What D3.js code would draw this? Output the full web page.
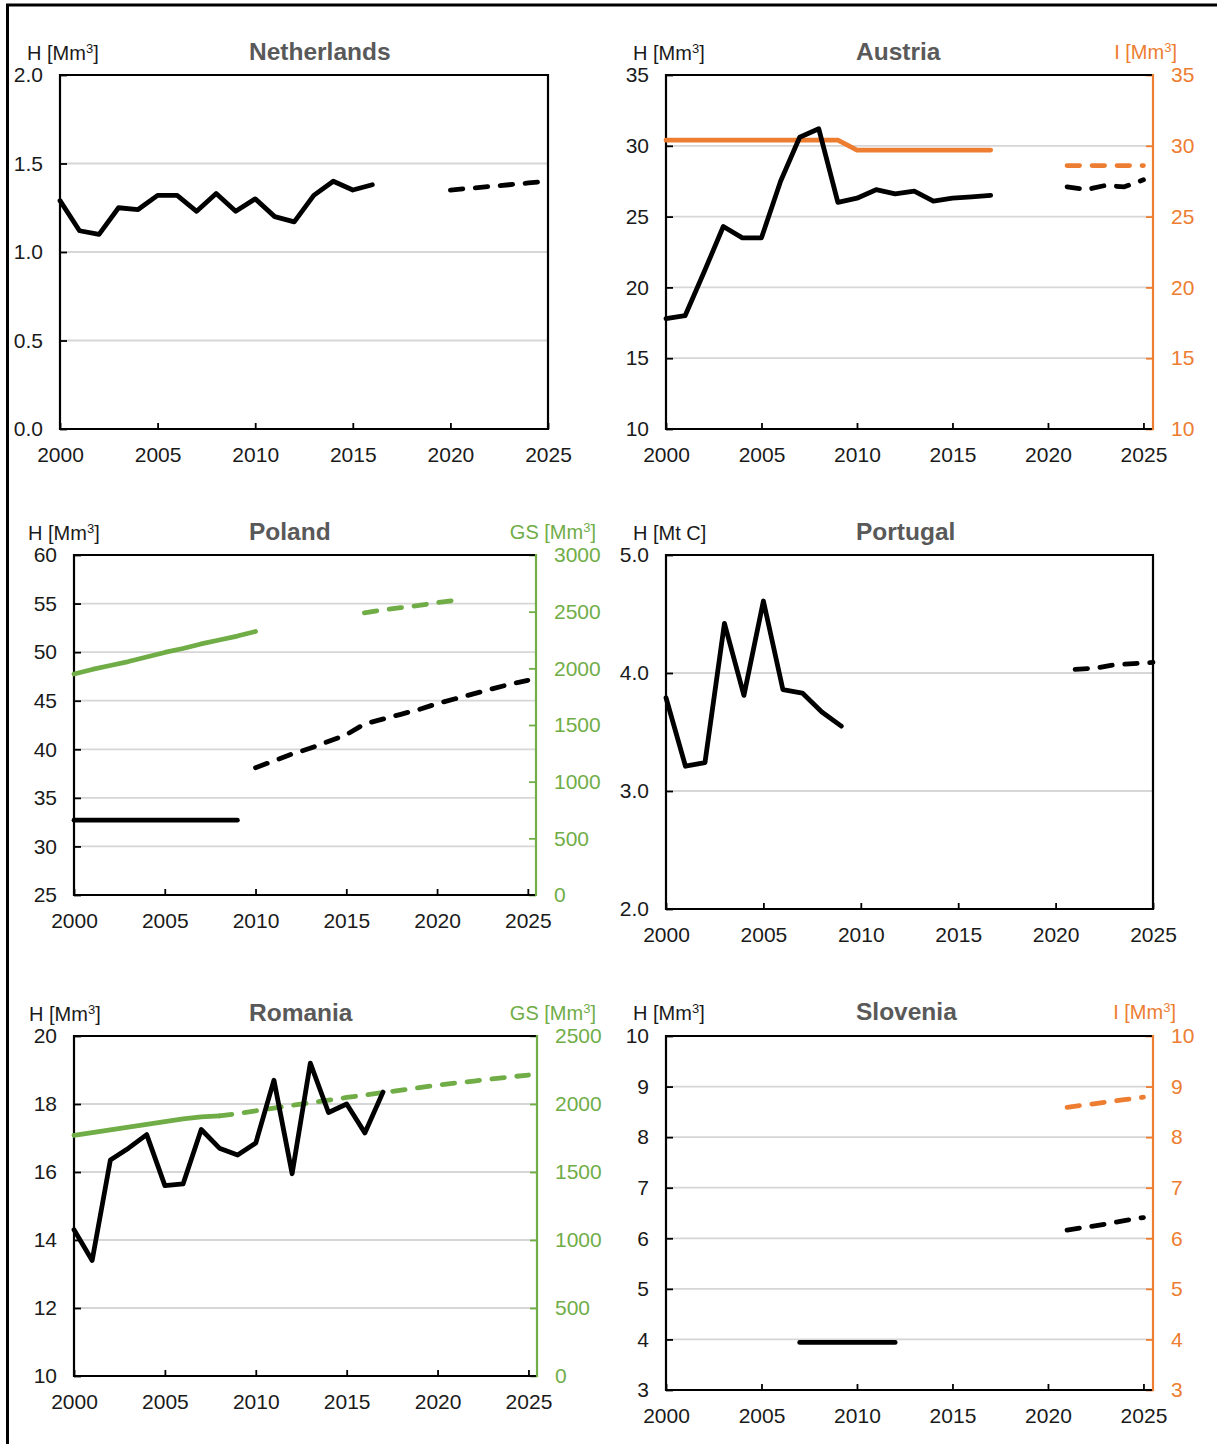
<!DOCTYPE html>
<html><head><meta charset="utf-8">
<script src="https://cdn.jsdelivr.net/npm/d3@7"></script>
<style>
body{margin:0;background:#fff}
svg{display:block}
text{font-family:"Liberation Sans",Arial,sans-serif}
</style>
</head><body>
<svg id="c" width="1217" height="1444"></svg>
<script>
// ---------------- DATA ----------------
const xTickYears = [2000, 2005, 2010, 2015, 2020, 2025];

// Netherlands
const nlYears = [2000,2001,2002,2003,2004,2005,2006,2007,2008,2009,2010,2011,2012,2013,2014,2015,2016];
const nlH = [1.29,1.12,1.10,1.25,1.24,1.32,1.32,1.23,1.33,1.23,1.30,1.20,1.17,1.32,1.40,1.35,1.38];
const nlProjYears = [2020,2021,2022,2023,2024,2025];
const nlHProj = [1.35,1.36,1.37,1.38,1.39,1.40];
const nlYTicks = [0,0.5,1.0,1.5,2.0];

// Austria
const atYears = [2000,2001,2002,2003,2004,2005,2006,2007,2008,2009,2010,2011,2012,2013,2014,2015,2016,2017];
const atH = [17.8,18.0,21.1,24.3,23.5,23.5,27.5,30.6,31.2,26.0,26.3,26.9,26.6,26.8,26.1,26.3,26.4,26.5];
const atI = [30.4,30.4,30.4,30.4,30.4,30.4,30.4,30.4,30.4,30.4,29.7,29.7,29.7,29.7,29.7,29.7,29.7,29.7];
const atProjYears = [2021,2022,2023,2024,2025];
const atHProj = [27.1,26.9,27.2,27.1,27.6];
const atIProj = [28.6,28.6,28.6,28.6,28.6];
const atYTicks = [10,15,20,25,30,35];

// Poland
const plHYears = [2000,2001,2002,2003,2004,2005,2006,2007,2008,2009];
const plH = [32.7,32.7,32.7,32.7,32.7,32.7,32.7,32.7,32.7,32.7];
const plHProjYears = [2010,2011,2012,2013,2014,2015,2016,2017,2018,2019,2020,2021,2022,2023,2024,2025];
const plHProj = [38.1,38.8,39.5,40.1,40.8,41.5,42.6,43.1,43.6,44.1,44.7,45.2,45.7,46.2,46.7,47.1];
const plGSYears = [2000,2001,2002,2003,2004,2005,2006,2007,2008,2009,2010];
const plGS = [1950,1990,2025,2060,2100,2140,2175,2215,2250,2285,2325];
const plGSProjYears = [2016,2017,2018,2019,2020,2021];
const plGSProj = [2490,2515,2535,2555,2580,2600];
const plYTicks = [25,30,35,40,45,50,55,60];
const plGSTicks = [0,500,1000,1500,2000,2500,3000];

// Portugal
const ptYears = [2000,2001,2002,2003,2004,2005,2006,2007,2008,2009];
const ptH = [3.79,3.21,3.24,4.42,3.81,4.61,3.86,3.83,3.67,3.55];
const ptProjYears = [2021,2022,2023,2024,2025];
const ptHProj = [4.03,4.04,4.07,4.08,4.09];
const ptYTicks = [2.0,3.0,4.0,5.0];

// Romania
const roYears = [2000,2001,2002,2003,2004,2005,2006,2007,2008,2009,2010,2011,2012,2013,2014,2015,2016,2017];
const roH = [14.3,13.4,16.35,16.7,17.1,15.6,15.65,17.25,16.7,16.5,16.85,18.7,15.95,19.2,17.75,18.0,17.15,18.35];
const roGSYears = [2000,2001,2002,2003,2004,2005,2006,2007,2008];
const roGS = [1770,1790,1810,1830,1850,1870,1890,1905,1912];
const roGSProjYears = [2008,2009,2010,2011,2012,2013,2014,2015,2016,2017,2018,2019,2020,2021,2022,2023,2024,2025];
const roGSProj = [1912,1930,1950,1970,1990,2008,2028,2048,2066,2084,2102,2120,2139,2154,2169,2184,2199,2213];
const roYTicks = [10,12,14,16,18,20];
const roGSTicks = [0,500,1000,1500,2000,2500];

// Slovenia
const siYears = [2007,2008,2009,2010,2011,2012];
const siH = [3.94,3.94,3.94,3.94,3.94,3.94];
const siProjYears = [2021,2022,2023,2024,2025];
const siHProj = [6.16,6.22,6.28,6.35,6.41];
const siIProj = [8.59,8.64,8.69,8.74,8.79];
const siYTicks = [3,4,5,6,7,8,9,10];

// ---------------- STYLE ----------------
const ORANGE = "#ED7D31", GREEN = "#70AD47", BLACK = "#000";
const TXT = "#1a1a1a";
const TICKFS = 21;

const svg = d3.select("#c");

// outer frame
svg.append("line").attr("x1",6).attr("x2",1217).attr("y1",5).attr("y2",5).attr("stroke","#000").attr("stroke-width",3);
svg.append("line").attr("x1",7.5).attr("x2",7.5).attr("y1",4).attr("y2",1444).attr("stroke","#000").attr("stroke-width",3);

function pairs(xs, ys){ return d3.zip(xs, ys); }

function unitLabel(g, x, y, prefix, suffix, color, anchor){
  const t = g.append("text").attr("x",x).attr("y",y).attr("fill",color)
    .attr("font-size",20).attr("text-anchor",anchor||"start");
  t.append("tspan").text(prefix);
  if (suffix !== null){
    t.append("tspan").attr("font-size",13).attr("dy",-7).text("3");
    t.append("tspan").attr("dy",7).text(suffix);
  }
}

function drawPanel(p){
  const g = svg.append("g");
  const x = d3.scaleLinear().domain([2000, p.xMax]).range([p.left, p.right]);
  const y = d3.scaleLinear().domain([p.yTicks[0], p.yTicks[p.yTicks.length-1]]).range([p.bottom, p.top]);
  let yr = null;
  if (p.rAxis){
    yr = d3.scaleLinear().domain([p.rAxis.ticks[0], p.rAxis.ticks[p.rAxis.ticks.length-1]]).range([p.bottom, p.top]);
  }

  // gridlines
  g.append("g").selectAll("line")
    .data(p.yTicks.slice(1, -1)).join("line")
    .attr("x1", p.left).attr("x2", p.right)
    .attr("y1", d => y(d)).attr("y2", d => y(d))
    .attr("stroke", "#d6d6d6").attr("stroke-width", 1.8);

  // left axis
  const la = g.append("g").attr("transform", `translate(${p.left},0)`)
    .call(d3.axisLeft(y).tickValues(p.yTicks).tickFormat(p.yFmt).tickSizeInner(-7).tickSizeOuter(0).tickPadding(17));
  la.select(".domain").remove();
  la.selectAll("line").attr("stroke", BLACK).attr("stroke-width", 1.8);
  la.selectAll("text").attr("font-size", TICKFS).attr("fill", TXT).attr("font-family", null);

  // bottom axis
  const ba = g.append("g").attr("transform", `translate(0,${p.bottom})`)
    .call(d3.axisBottom(x).tickValues(xTickYears).tickFormat(d3.format("d")).tickSizeInner(-6).tickSizeOuter(0).tickPadding(18));
  ba.select(".domain").remove();
  ba.selectAll("line").attr("stroke", BLACK).attr("stroke-width", 1.8);
  ba.selectAll("text").attr("font-size", TICKFS).attr("fill", TXT).attr("font-family", null);

  // right axis
  if (p.rAxis){
    const ra = g.append("g").attr("transform", `translate(${p.right},0)`)
      .call(d3.axisRight(yr).tickValues(p.rAxis.ticks).tickFormat(d3.format("d")).tickSizeInner(-7).tickSizeOuter(0).tickPadding(18));
    ra.select(".domain").remove();
    ra.selectAll("line").attr("stroke", p.rAxis.color).attr("stroke-width", 1.8);
    ra.selectAll("text").attr("font-size", TICKFS).attr("fill", p.rAxis.color).attr("font-family", null);
  }

  // frame
  const fw = 2.2;
  g.append("line").attr("x1",p.left).attr("x2",p.right).attr("y1",p.top).attr("y2",p.top).attr("stroke",BLACK).attr("stroke-width",fw);
  g.append("line").attr("x1",p.left).attr("x2",p.right).attr("y1",p.bottom).attr("y2",p.bottom).attr("stroke",BLACK).attr("stroke-width",fw);
  g.append("line").attr("x1",p.left).attr("x2",p.left).attr("y1",p.top-1).attr("y2",p.bottom+1).attr("stroke",BLACK).attr("stroke-width",fw);
  g.append("line").attr("x1",p.right).attr("x2",p.right).attr("y1",p.top-1).attr("y2",p.bottom+1)
    .attr("stroke", p.rAxis ? p.rAxis.color : BLACK).attr("stroke-width",fw);

  // series
  p.series.forEach(s => {
    const sc = s.right ? yr : y;
    const line = d3.line().x(d => x(d[0])).y(d => sc(d[1]));
    g.append("path").datum(pairs(s.xs, s.ys))
      .attr("d", line).attr("fill","none")
      .attr("stroke", s.color).attr("stroke-width", 4.8)
      .attr("stroke-linecap","round").attr("stroke-linejoin","round")
      .attr("stroke-dasharray", s.dashed ? "12.5,12.5" : null);
  });

  // titles / unit labels
  g.append("text").attr("x", p.titleX).attr("y", p.labelY).attr("font-size", 24.5).attr("font-weight","bold")
    .attr("fill","#595959").text(p.title);
  unitLabel(g, p.hx, p.labelY, p.hPrefix, p.hSuffix, TXT, "start");
  if (p.rAxis){
    unitLabel(g, p.rx, p.labelY - 1, p.rAxis.prefix, "]", p.rAxis.color, "end");
  }
}

const f1 = d3.format(".1f"), fd = d3.format("d");

drawPanel({
  title:"Netherlands", left:60, right:548, top:75, bottom:429, xMax:2025,
  titleX:249, labelY:60, hx:27, hPrefix:"H [Mm", hSuffix:"]",
  yTicks:nlYTicks, yFmt:f1,
  series:[
    {xs:nlYears, ys:nlH, color:BLACK},
    {xs:nlProjYears, ys:nlHProj, color:BLACK, dashed:true}
  ]
});

drawPanel({
  title:"Austria", left:666, right:1153, top:75, bottom:429, xMax:2025.5,
  titleX:856, labelY:60, hx:633, hPrefix:"H [Mm", hSuffix:"]",
  yTicks:atYTicks, yFmt:fd,
  rAxis:{ticks:atYTicks, color:ORANGE, prefix:"I [Mm"}, rx:1177,
  series:[
    {xs:atYears, ys:atI, color:ORANGE, right:true},
    {xs:atProjYears, ys:atIProj, color:ORANGE, right:true, dashed:true},
    {xs:atYears, ys:atH, color:BLACK},
    {xs:atProjYears, ys:atHProj, color:BLACK, dashed:true}
  ]
});

drawPanel({
  title:"Poland", left:74, right:536, top:555, bottom:895, xMax:2025.45,
  titleX:249, labelY:540, hx:28, hPrefix:"H [Mm", hSuffix:"]",
  yTicks:plYTicks, yFmt:fd,
  rAxis:{ticks:plGSTicks, color:GREEN, prefix:"GS [Mm"}, rx:596,
  series:[
    {xs:plGSYears, ys:plGS, color:GREEN, right:true},
    {xs:plGSProjYears, ys:plGSProj, color:GREEN, right:true, dashed:true},
    {xs:plHYears, ys:plH, color:BLACK},
    {xs:plHProjYears, ys:plHProj, color:BLACK, dashed:true}
  ]
});

drawPanel({
  title:"Portugal", left:666, right:1153, top:555, bottom:909, xMax:2025,
  titleX:856, labelY:540, hx:633, hPrefix:"H [Mt C]", hSuffix:null,
  yTicks:ptYTicks, yFmt:f1,
  series:[
    {xs:ptYears, ys:ptH, color:BLACK},
    {xs:ptProjYears, ys:ptHProj, color:BLACK, dashed:true}
  ]
});

drawPanel({
  title:"Romania", left:74, right:537, top:1036, bottom:1376, xMax:2025.47,
  titleX:249, labelY:1021, hx:29, hPrefix:"H [Mm", hSuffix:"]",
  yTicks:roYTicks, yFmt:fd,
  rAxis:{ticks:roGSTicks, color:GREEN, prefix:"GS [Mm"}, rx:596,
  series:[
    {xs:roGSYears, ys:roGS, color:GREEN, right:true},
    {xs:roGSProjYears, ys:roGSProj, color:GREEN, right:true, dashed:true},
    {xs:roYears, ys:roH, color:BLACK}
  ]
});

drawPanel({
  title:"Slovenia", left:666, right:1153, top:1036, bottom:1390, xMax:2025.5,
  titleX:856, labelY:1020, hx:633, hPrefix:"H [Mm", hSuffix:"]",
  yTicks:siYTicks, yFmt:fd,
  rAxis:{ticks:siYTicks, color:ORANGE, prefix:"I [Mm"}, rx:1176,
  series:[
    {xs:siProjYears, ys:siIProj, color:ORANGE, right:true, dashed:true},
    {xs:siYears, ys:siH, color:BLACK},
    {xs:siProjYears, ys:siHProj, color:BLACK, dashed:true}
  ]
});
</script>
</body></html>
